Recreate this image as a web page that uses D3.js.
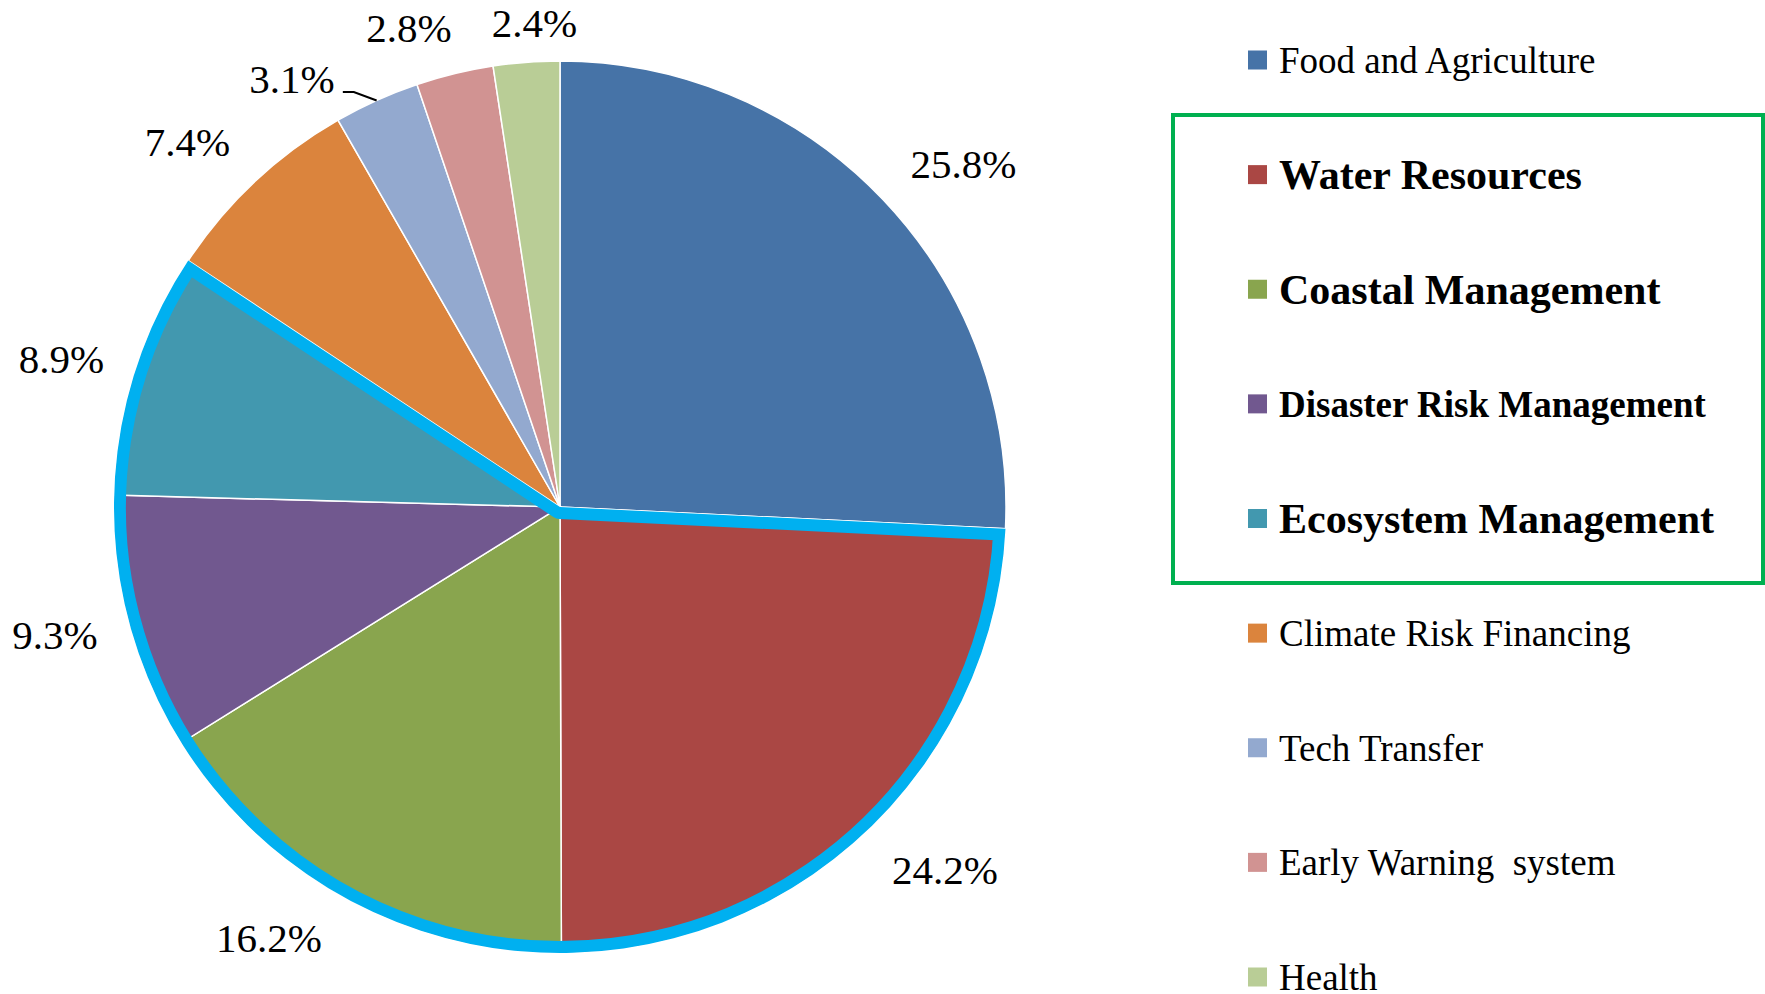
<!DOCTYPE html>
<html>
<head>
<meta charset="utf-8">
<script src="https://cdnjs.cloudflare.com/ajax/libs/d3/7.8.5/d3.min.js"></script>
<style>
  body { margin: 0; background: #fff; }
  svg text { font-family: "Liberation Serif", "Times New Roman", serif; fill: #000; }
</style>
</head>
<body>
<div id="chart"></div>
<script>
// sectors, clockwise from 12 o'clock (same order as the legend)
var categories = ["Food and Agriculture", "Water Resources", "Coastal Management",
                  "Disaster Risk Management", "Ecosystem Management", "Climate Risk Financing",
                  "Tech Transfer", "Early Warning  system", "Health"];
var shares = [25.8, 24.2, 16.2, 9.3, 8.9, 7.4, 3.1, 2.8, 2.4];
var colors = ["#4673A7", "#AA4744", "#89A54E", "#71588F", "#4298AF",
              "#DB843D", "#93A9CF", "#D19392", "#B9CD96"];
// the sectors framed in cyan on the pie and in green in the legend
var highlighted = ["Water Resources", "Coastal Management", "Disaster Risk Management", "Ecosystem Management"];

// label placement: angle shift (deg) from the slice middle, and distance from centre
var labelShift = [3.2, -3.0, 5.1, 1.0, -1.0, -2.4, -7.8, -3.8, 1.3];
var labelRadius = [530, 529, 520, 521, 520, 522, 505, 503, 485];
var legendSize = [37, 42, 42, 37, 42, 37, 37, 37, 37];

var width = 1765, height = 994;
var cx = 560, cy = 507, radius = 446;

var svg = d3.select("#chart")
  .append("svg")
    .attr("width", width)
    .attr("height", height);

var data = categories.map(function(c, i) { return { name: c, value: shares[i], i: i }; });

var pie = d3.pie()
  .sort(null)
  .value(function(d) { return d.value; });
var arcs = pie(data);

var arc = d3.arc().innerRadius(0).outerRadius(radius);

var g = svg.append("g").attr("transform", "translate(" + cx + "," + cy + ")");

// slices
g.selectAll("path.slice")
  .data(arcs)
  .enter().append("path")
    .attr("class", "slice")
    .attr("d", arc)
    .attr("fill", function(d) { return colors[d.data.i]; })
    .attr("stroke", "#fff")
    .attr("stroke-width", 1.5);

// cyan frame round the highlighted group, drawn on the inside edge only
var hl = arcs.filter(function(d) { return highlighted.indexOf(d.data.name) >= 0; });
var groupArc = {
  startAngle: d3.min(hl, function(d) { return d.startAngle; }),
  endAngle: d3.max(hl, function(d) { return d.endAngle; })
};
svg.append("clipPath").attr("id", "grpClip")
  .append("path")
    .attr("transform", "translate(" + cx + "," + cy + ")")
    .attr("d", arc(groupArc));
svg.append("g").attr("clip-path", "url(#grpClip)")
  .append("path")
    .attr("transform", "translate(" + cx + "," + cy + ")")
    .attr("d", arc(groupArc))
    .attr("fill", "none")
    .attr("stroke", "#00B0F0")
    .attr("stroke-width", 24)
    .attr("stroke-linejoin", "round");

// percentage labels
var fmt = function(v) { return d3.format(".1f")(v) + "%"; };
function labelPos(d) {
  var a = (d.startAngle + d.endAngle) / 2 + labelShift[d.data.i] * Math.PI / 180;
  var r = labelRadius[d.data.i];
  return [r * Math.sin(a), -r * Math.cos(a)];
}
g.selectAll("text.pct")
  .data(arcs)
  .enter().append("text")
    .attr("class", "pct")
    .attr("x", function(d) { return labelPos(d)[0]; })
    .attr("y", function(d) { return labelPos(d)[1]; })
    .attr("dy", "0.35em")
    .attr("text-anchor", "middle")
    .style("font-size", "41px")
    .text(function(d) { return fmt(d.data.value); });

// leader line for the Tech Transfer label
var tech = arcs.filter(function(d) { return d.data.name === "Tech Transfer"; })[0];
var tp = labelPos(tech);
var edge = d3.arc().innerRadius(radius).outerRadius(radius).centroid(tech);
g.append("path")
  .attr("d", d3.line()([[tp[0] + 51, tp[1] + 13], [tp[0] + 62, tp[1] + 13], edge]))
  .attr("fill", "none")
  .attr("stroke", "#000")
  .attr("stroke-width", 2);

// legend
var y = d3.scalePoint().domain(categories).range([60, 977]);
var legend = svg.append("g");
var rows = legend.selectAll("g.row")
  .data(data)
  .enter().append("g")
    .attr("class", "row")
    .attr("transform", function(d) { return "translate(1248," + y(d.name) + ")"; });
rows.append("rect")
  .attr("x", 0).attr("y", -9.5)
  .attr("width", 19).attr("height", 19)
  .attr("fill", function(d) { return colors[d.i]; });
rows.append("text")
  .attr("x", 31)
  .attr("dy", "0.35em")
  .style("font-size", function(d) { return legendSize[d.i] + "px"; })
  .style("font-weight", function(d) { return highlighted.indexOf(d.name) >= 0 ? "bold" : "normal"; })
  .style("white-space", "pre")
  .text(function(d) { return d.name; });

// green box round the highlighted legend entries
legend.append("rect")
  .attr("x", 1173).attr("y", 115)
  .attr("width", 590).attr("height", 468)
  .attr("fill", "none")
  .attr("stroke", "#00B050")
  .attr("stroke-width", 4);
</script>
</body>
</html>
